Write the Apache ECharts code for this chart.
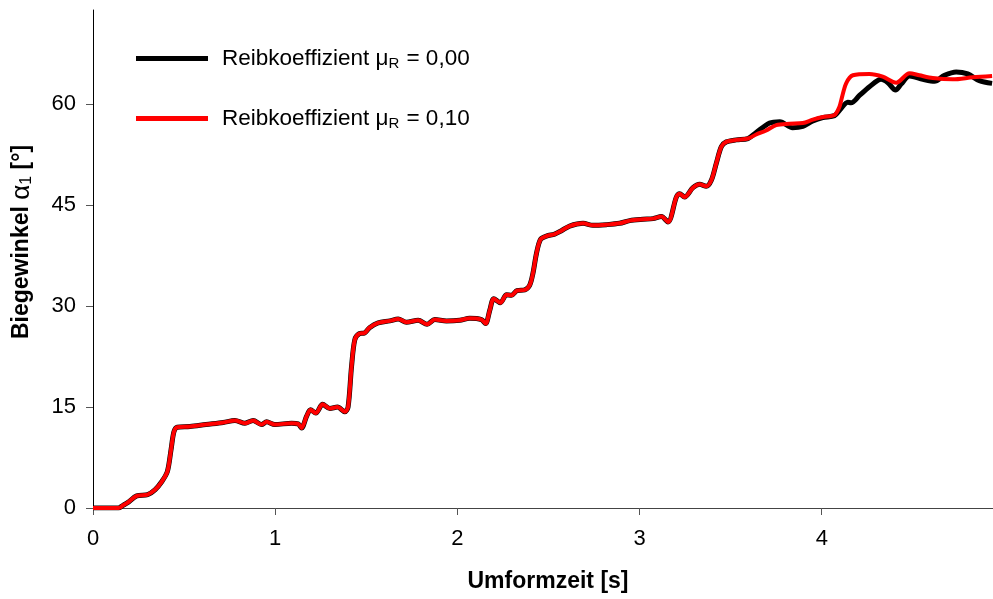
<!DOCTYPE html>
<html>
<head>
<meta charset="utf-8">
<script src="https://cdn.jsdelivr.net/npm/echarts@6/dist/echarts.min.js"></script>
<style>html,body{margin:0;padding:0;background:#fff}#c{width:993px;height:599px}</style>
</head>
<body>
<div id="c"></div>
<script>
// x ticks and y ticks
var xTicks = [0, 1, 2, 3, 4];
var yTicks = [0, 15, 30, 45, 60];
var seriesNames = ['Reibkoeffizient μ{sub|R} = 0,00', 'Reibkoeffizient μ{sub|R} = 0,10'];

// common part of both curves (t [s], angle [°])
var commonCurve = [
  [0,0],[0.14,0],[0.165,0.4],[0.19,0.8],[0.24,1.8],[0.30,2.0],[0.34,2.7],[0.377,3.9],[0.408,5.4],
  [0.428,8.6],[0.444,11.3],[0.462,12.0],[0.532,12.1],[0.62,12.4],[0.715,12.7],[0.779,13.0],
  [0.834,12.6],[0.879,13.0],[0.925,12.4],[0.953,12.8],[0.998,12.4],[1.09,12.6],[1.126,12.5],
  [1.145,11.9],[1.172,13.6],[1.194,14.6],[1.223,14.1],[1.26,15.4],[1.30,14.8],[1.342,15.0],
  [1.382,14.3],[1.40,15.0],[1.419,21.0],[1.437,25.0],[1.461,25.9],[1.49,26.0],[1.518,26.8],
  [1.565,27.5],[1.629,27.8],[1.675,28.1],[1.72,27.6],[1.785,27.9],[1.834,27.3],[1.876,28.0],
  [1.94,27.8],[2.013,27.9],[2.068,28.2],[2.132,28.0],[2.155,27.4],[2.178,29.4],[2.2,31.1],
  [2.236,30.5],[2.27,31.7],[2.297,31.6],[2.327,32.3],[2.37,32.4],[2.397,33.1],[2.415,34.9],
  [2.434,37.8],[2.456,39.9],[2.489,40.4],[2.534,40.7],[2.571,41.2],[2.616,41.9],[2.69,42.3],
  [2.744,42.0],[2.818,42.1],[2.89,42.3],[2.946,42.7],[3.019,42.9],[3.074,43.0],[3.12,43.3],
  [3.156,42.5],[3.202,46.2],[3.22,46.7],[3.247,46.2],[3.293,47.6],[3.33,48.1],[3.366,47.8],
  [3.394,48.7],[3.421,51.2],[3.449,53.7],[3.476,54.4],[3.531,54.7],[3.595,54.9]
];
// tail of curve μR = 0,00 (black)
var tailBlack = [
  [3.64,55.8],[3.714,57.2],[3.77,57.4],[3.84,56.5],[3.896,56.7],[3.951,57.5],[4.006,58.0],
  [4.07,58.3],[4.098,59.1],[4.143,60.3],[4.161,60.2],[4.207,61.3],[4.262,62.6],[4.326,63.7],
  [4.363,63.2],[4.405,62.1],[4.436,63.0],[4.482,64.2],[4.555,63.7],[4.619,63.4],[4.674,64.3],
  [4.738,64.8],[4.801,64.5],[4.865,63.5],[4.935,63.1]
];
// tail of curve μR = 0,10 (red)
var tailRed = [
  [3.64,55.5],[3.695,56.1],[3.75,56.9],[3.823,57.1],[3.896,57.2],[3.951,57.7],[4.006,58.1],
  [4.07,58.4],[4.097,59.6],[4.107,60.6],[4.134,63.1],[4.171,64.3],[4.262,64.5],[4.335,64.1],
  [4.409,63.2],[4.482,64.6],[4.536,64.3],[4.609,63.9],[4.719,63.7],[4.829,64.0],[4.935,64.2]
];

var chart = echarts.init(document.getElementById('c'), null, {renderer: 'canvas'});
var FONT = 'Arial, "Liberation Sans", sans-serif';
chart.setOption({
  animation: false,
  backgroundColor: '#fff',
  grid: {left: 93, right: 0, top: 10, bottom: 91, containLabel: false},
  legend: {
    orient: 'vertical',
    left: 131, top: 42,
    itemWidth: 72, itemHeight: 5,
    itemGap: 36,
    icon: 'rect',
    data: [seriesNames[0], seriesNames[1]],
    textStyle: {
      fontFamily: FONT, fontSize: 22.5, color: '#000', padding: [0, 0, 0, 9],
      rich: {sub: {fontFamily: FONT, fontSize: 15, color: '#000', padding: [10, 1, 0, 0]}}
    }
  },
  xAxis: {
    type: 'value', min: 0, max: 4.94, interval: 1,
    name: 'Umformzeit [s]', nameLocation: 'middle', nameGap: 62,
    nameTextStyle: {fontFamily: FONT, fontSize: 23, fontWeight: 'bold', color: '#000', padding: [0, 0, 0, 10]},
    axisLine: {show: true, onZero: false, lineStyle: {color: '#444', width: 1}},
    axisTick: {show: true, inside: false, length: 7, customValues: xTicks, lineStyle: {color: '#555'}},
    axisLabel: {fontFamily: FONT, fontSize: 22, color: '#000', margin: 20, customValues: xTicks},
    splitLine: {show: false}
  },
  yAxis: {
    type: 'value', min: 0, max: 74, interval: 15,
    name: '{b|Biegewinkel }{a|α}{s|1}{b| [°]}', nameLocation: 'middle', nameGap: 58, nameRotate: 90,
    nameTextStyle: {
      padding: [0, 0, 0, 34],
      rich: {
        b: {fontFamily: FONT, fontSize: 23, fontWeight: 'bold', color: '#000'},
        a: {fontFamily: FONT, fontSize: 26, fontWeight: 'normal', color: '#000'},
        s: {fontFamily: FONT, fontSize: 16, fontWeight: 'normal', color: '#000', padding: [9, 0, 0, 0]}
      }
    },
    axisLine: {show: true, lineStyle: {color: '#000', width: 1}},
    axisTick: {show: true, inside: false, length: 7, customValues: yTicks, lineStyle: {color: '#555'}},
    axisLabel: {fontFamily: FONT, fontSize: 22, color: '#000', margin: 17, customValues: yTicks},
    splitLine: {show: false}
  },
  series: [
    {
      name: seriesNames[0], type: 'line', data: commonCurve.concat(tailBlack),
      showSymbol: false, symbol: 'none', smooth: 0.3,
      lineStyle: {color: '#000', width: 5}, itemStyle: {color: '#000'}, z: 2
    },
    {
      name: seriesNames[1], type: 'line', data: commonCurve.concat(tailRed),
      showSymbol: false, symbol: 'none', smooth: 0.3,
      lineStyle: {color: '#ff0000', width: 4}, itemStyle: {color: '#ff0000'}, z: 3
    }
  ]
});
</script>
</body>
</html>
